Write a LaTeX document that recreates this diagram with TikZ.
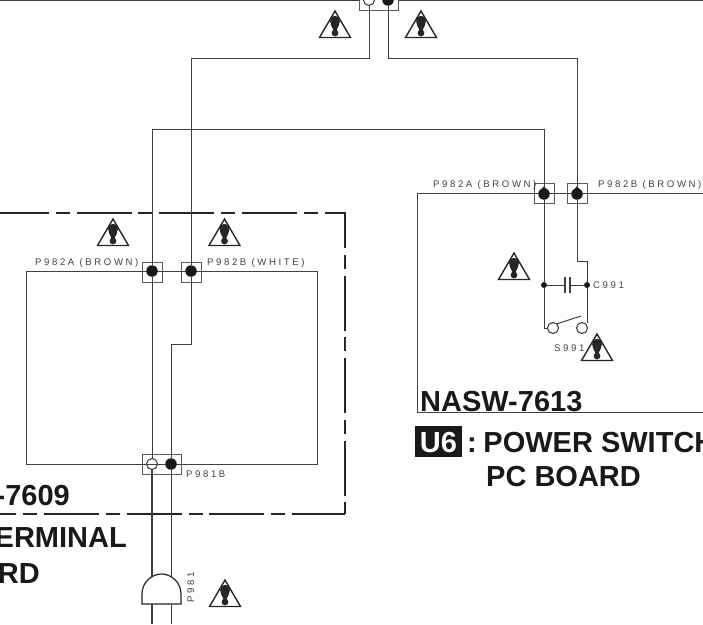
\documentclass[tikz,border=0pt]{standalone}
\usepackage{fontspec}
\setmainfont{Liberation Sans}
\newfontfamily\lblfont[LetterSpace=27]{Liberation Sans}
\definecolor{wire}{HTML}{404040}
\tikzset{
 wireline/.style={draw=wire,line width=1pt},
 dashline/.style={draw=black!85,line width=2.4pt,dash pattern=on 55pt off 6.7pt on 14pt off 7pt,dash phase=6pt},
 conbox/.style={draw=black!65,line width=1pt,minimum width=20pt,minimum height=20pt,inner sep=0pt},
 soliddot/.style={circle,fill=black!90,minimum size=11.5pt,inner sep=0pt},
 smalldot/.style={circle,fill=black!90,minimum size=6pt,inner sep=0pt},
 opendot/.style={circle,draw=wire,fill=white,line width=1.1pt,minimum size=11pt,inner sep=0pt},
 lbl/.style={font=\lblfont\fontsize{9.6}{9.6}\selectfont,text=black!75,inner sep=0pt,anchor=base west},
 title/.style={font=\bfseries\fontsize{29}{29}\selectfont,text=black!90,inner sep=0pt},
 warn/.pic={
  \draw[black!85,line width=1.4pt,line join=miter] (0,0)--(-15.5,26.5)--(15.5,26.5)--cycle;
  \fill[black!85] (0,5) .. controls (5.5,5) and (5.5,9) .. (4,14) -- (1.2,20) -- (-1.2,20) -- (-4,14) .. controls (-5.5,9) and (-5.5,5) .. (0,5) -- cycle;
  \fill[black!85] (0,22) circle (3.4pt);
 }
}
\begin{document}
\begin{tikzpicture}[x=1pt,y=-1pt]
\useasboundingbox (0,0) rectangle (703,624);
\clip (0,0) rectangle (703,624);

\draw[wireline] (0,.5)--(703,.5);
\draw[wireline] (26,271)--(317,271)--(317,464)--(26,464)--cycle;
\draw[wireline] (703,193)--(417,193)--(417,412)--(703,412);
\draw[dashline] (0,213)--(345,213)--(345,495.5);
\draw[dashline,dash phase=2pt] (345,514)--(0,514);
\draw[dashline,dash pattern=] (345,502)--(345,514);

\node[conbox,minimum width=39pt,minimum height=20pt,fill=white] (topbox) at (378.5,0) {};
\node[opendot] (topa) at (369,0) {};
\node[soliddot] (topb) at (388,0) {};

\node[conbox] (ba) at (152,272) {};
\node[conbox] (bb) at (191,272) {};
\node[conbox,minimum width=39pt] (bc) at (161.5,464) {};
\node[conbox] (ra) at (544,193) {};
\node[conbox] (rb) at (577,193) {};

\coordinate (ta) at (369,58);
\coordinate (tb) at (388,58);
\coordinate (tc) at (191,58);
\coordinate (td) at (577,58);
\coordinate (cross) at (152,129);
\coordinate (crossr) at (544,129);
\coordinate (joga) at (191,344);
\coordinate (jogb) at (171,344);
\coordinate (botb) at (171,624);
\coordinate (bota) at (152,624);
\coordinate (rjoga) at (577,261);
\coordinate (rjogb) at (587,261);
\coordinate (swl) at (544,328);
\coordinate (swr) at (587,323);

\node[soliddot] (da) at (152,271) {};
\node[soliddot] (db) at (191,271) {};
\node[opendot] (dc) at (152,464) {};
\node[soliddot] (dd) at (171,464) {};
\node[soliddot] (de) at (544,194) {};
\node[soliddot] (df) at (577,194) {};
\foreach \x in {544,577}
 \fill[black!90] (\x,186)--(\x+4.5,192)--(\x-4.5,192)--cycle;
\node[smalldot] (capl) at (544,285) {};
\node[smalldot] (capr) at (587,285) {};
\node[opendot] (swa) at (553,328) {};
\node[opendot] (swb) at (582,328) {};

\draw[wireline] (topa)--(ta)--(tc)--(db);
\draw[wireline] (topb)--(tb)--(td)--(df);
\draw[wireline] (crossr)--(cross)--(da);
\draw[wireline] (crossr)--(de);
\draw[wireline] (da)--(dc);
\draw[wireline,line width=1.5pt] (dc)--(bota);
\draw[wireline] (db)--(joga)--(jogb)--(dd);
\draw[wireline] (dd)--(botb);
\draw[wireline] (de)--(capl)--(swl)--(swa);
\draw[wireline] (df)--(rjoga)--(rjogb)--(capr)--(swr);
\draw[wireline] (swa.north east)--(581,316);
\draw[wireline,line width=.8pt] (dc.west)--(dc.east);

\coordinate (capa) at (565,285);
\coordinate (capb) at (570,285);
\draw[wireline] (capl)--(capa);
\draw[wireline] (capb)--(capr);
\draw[wireline,line width=1.5pt] (565,277)--(565,293) (570,277)--(570,293);

\draw[draw=black!85,fill=white,line width=1.2pt] (142,604)--(142,594) .. controls (142,582) and (152,574) .. (161.5,574) .. controls (171,574) and (181,582) .. (181,594)--(181,604)--cycle;
\draw[wireline,line width=1.5pt] (152,604)--(bota);
\draw[wireline] (171,604)--(botb);

\foreach \x/\y in {335/11,421/11,113/219,224.5/219,225/580,514/253,597/334}
 \pic at (\x,\y) {warn};

\node[lbl] at (433,187) {P982A (BROWN)};
\node[lbl] at (598,187) {P982B (BROWN)};
\node[lbl] at (35,265) {P982A (BROWN)};
\node[lbl] at (207,265) {P982B (WHITE)};
\node[lbl] at (186,477) {P981B};
\node[lbl] at (593,288.5) {C991};
\node[lbl] at (554,351.5) {S991};
\node[lbl,rotate=90] at (194,603) {P981};

\node[title,anchor=base east] at (70,505) {-7609};
\node[title,anchor=base east] at (127,547) {ERMINAL};
\node[title,anchor=base east] at (40,583) {RD};
\node[title,anchor=base west] at (420,411) {NASW-7613};
\node[fill=black!90,minimum width=47pt,minimum height=31pt,inner sep=0pt] (u6box) at (438.5,441.5) {};
\node[title,text=white,anchor=base] at (438.5,452) {U6};
\node[title,anchor=base west] at (467,452) {:\kern-1.5pt\ POWER SWITCH};
\node[title,anchor=base west] at (486,486) {PC BOARD};
\end{tikzpicture}
\end{document}
